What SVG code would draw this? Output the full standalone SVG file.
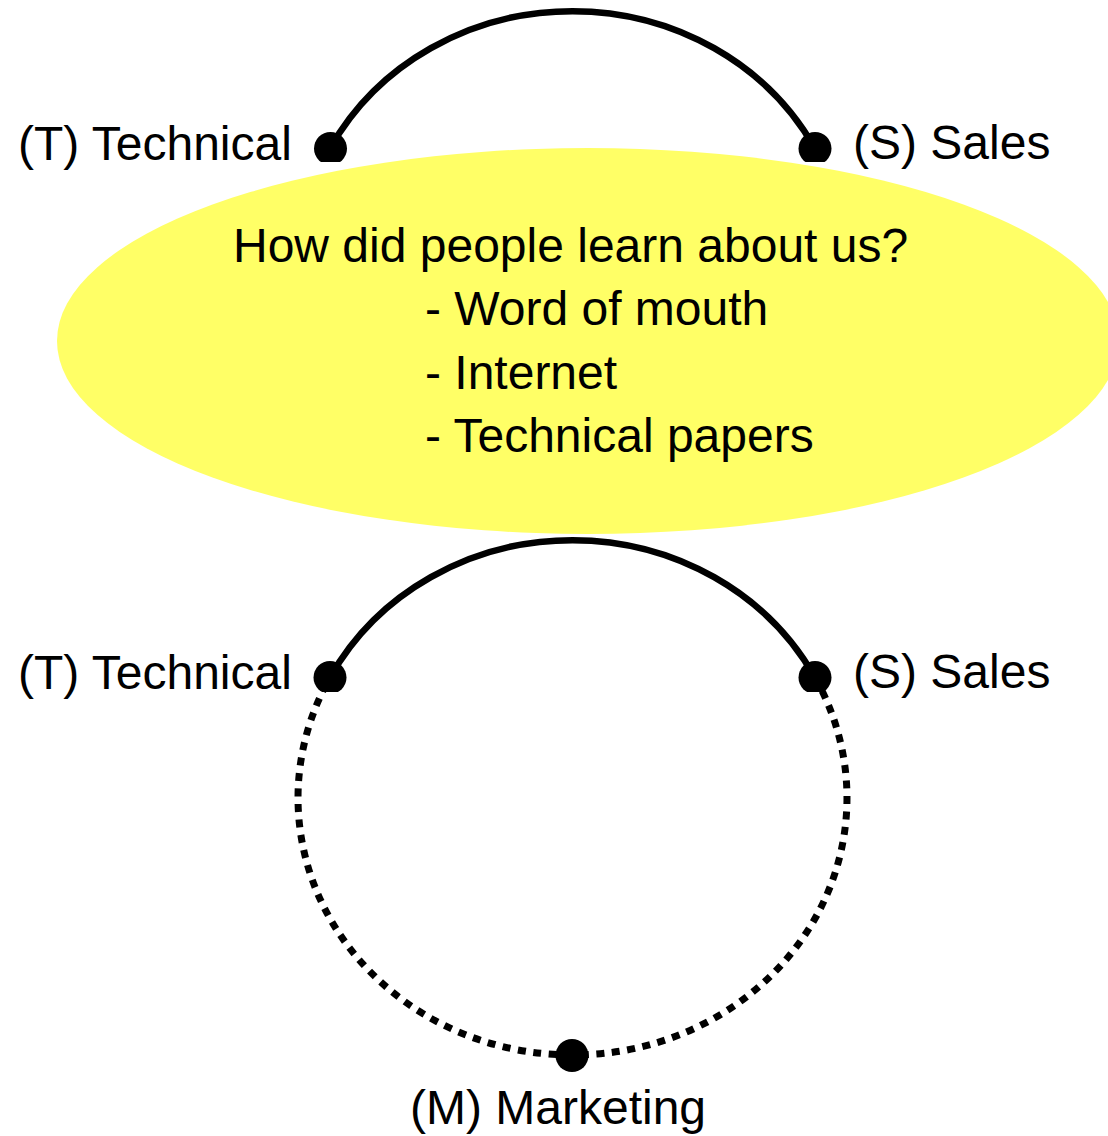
<svg xmlns="http://www.w3.org/2000/svg" width="1108" height="1136" viewBox="0 0 1108 1136">
<style>
.lbl{font-family:"Liberation Sans",Arial,sans-serif;font-size:48px;fill:#000}
.arc{fill:none;stroke:#000;stroke-width:6.5}
.dash{fill:none;stroke:#000;stroke-width:7;stroke-dasharray:8 7.5}
.dot{fill:#000}
</style>
<defs>
<clipPath id="cTop"><rect x="0" y="0" width="1108" height="162"/></clipPath>
<clipPath id="cLow"><rect x="0" y="500" width="1108" height="192"/></clipPath>
</defs>
<rect width="1108" height="1136" fill="#fff"/>
<g id="connectors">
<path class="arc" d="M330 148.5 A274 257 0 0 1 815 148.5"/>
<path class="arc" d="M330 677.5 A274 257 0 0 1 815 677.5"/>
<path class="dash" d="M572 1055 A274 257 0 0 1 330 677.5"/>
<path class="dash" d="M815 677.5 A274 257 0 0 1 572 1055"/>
</g>
<g id="question">
<ellipse cx="588" cy="341" rx="531" ry="193" fill="#ffff66"/>
<text class="lbl" x="233" y="262">How did people learn about us?</text>
<text class="lbl" x="425" y="325">- Word of mouth</text>
<text class="lbl" x="425" y="388.5">- Internet</text>
<text class="lbl" x="425" y="452">- Technical papers</text>
</g>
<g id="T1"><circle class="dot" cx="330.5" cy="148.5" r="16.5" clip-path="url(#cTop)"/><text class="lbl" x="18" y="160">(T) Technical</text></g>
<g id="S1"><circle class="dot" cx="815" cy="148.5" r="16.5" clip-path="url(#cTop)"/><text class="lbl" x="853" y="159">(S) Sales</text></g>
<g id="T2"><circle class="dot" cx="330" cy="677.5" r="16.5" clip-path="url(#cLow)"/><text class="lbl" x="18" y="689">(T) Technical</text></g>
<g id="S2"><circle class="dot" cx="815" cy="677.5" r="16.5" clip-path="url(#cLow)"/><text class="lbl" x="853" y="688">(S) Sales</text></g>
<g id="M"><circle class="dot" cx="572" cy="1055.5" r="16.5"/><text class="lbl" x="410" y="1124">(M) Marketing</text></g>
</svg>
